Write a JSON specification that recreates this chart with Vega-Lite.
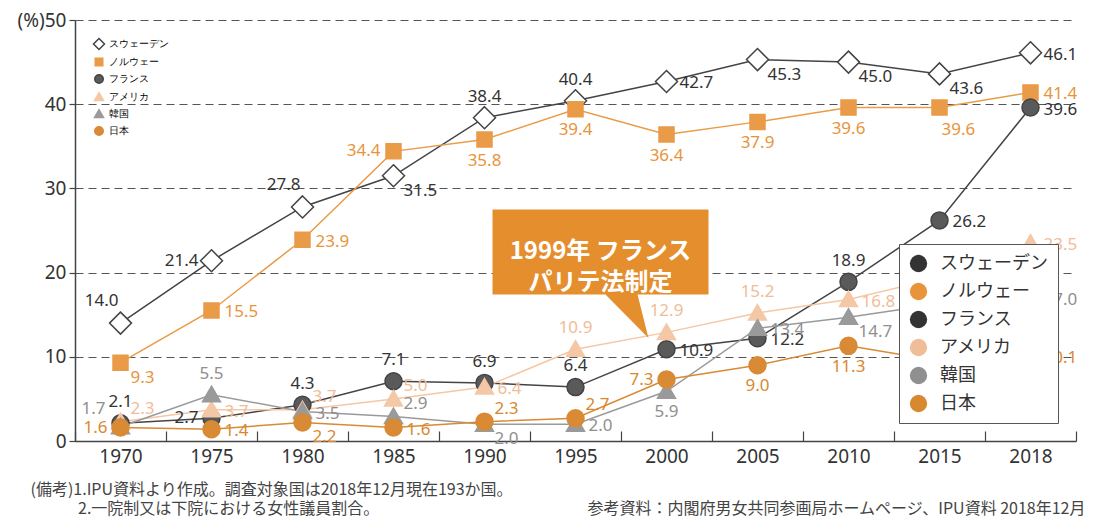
{
  "$schema": "https://vega.github.io/schema/vega-lite/v6.json",
  "autosize": {"type": "none"},
  "padding": {"left": 75, "top": 20, "right": 37, "bottom": 77},
  "width": 1001,
  "height": 421,
  "config": {"view": {"stroke": null}, "font": "Noto Sans"},
  "title": {"text": "2.一院制又は下院における女性議員割合。", "orient": "bottom", "anchor": "start", "frame": "group", "offset": 0, "dx": 3, "dy": -15, "baseline": "top", "font": "Noto Sans CJK JP", "fontSize": 16, "fontWeight": "normal", "color": "#444"},
  "data": {"values": [
    {"country": "スウェーデン", "year": "1970", "value": 14.0},
    {"country": "スウェーデン", "year": "1975", "value": 21.4},
    {"country": "スウェーデン", "year": "1980", "value": 27.8},
    {"country": "スウェーデン", "year": "1985", "value": 31.5},
    {"country": "スウェーデン", "year": "1990", "value": 38.4},
    {"country": "スウェーデン", "year": "1995", "value": 40.4},
    {"country": "スウェーデン", "year": "2000", "value": 42.7},
    {"country": "スウェーデン", "year": "2005", "value": 45.3},
    {"country": "スウェーデン", "year": "2010", "value": 45.0},
    {"country": "スウェーデン", "year": "2015", "value": 43.6},
    {"country": "スウェーデン", "year": "2018", "value": 46.1},
    {"country": "ノルウェー", "year": "1970", "value": 9.3},
    {"country": "ノルウェー", "year": "1975", "value": 15.5},
    {"country": "ノルウェー", "year": "1980", "value": 23.9},
    {"country": "ノルウェー", "year": "1985", "value": 34.4},
    {"country": "ノルウェー", "year": "1990", "value": 35.8},
    {"country": "ノルウェー", "year": "1995", "value": 39.4},
    {"country": "ノルウェー", "year": "2000", "value": 36.4},
    {"country": "ノルウェー", "year": "2005", "value": 37.9},
    {"country": "ノルウェー", "year": "2010", "value": 39.6},
    {"country": "ノルウェー", "year": "2015", "value": 39.6},
    {"country": "ノルウェー", "year": "2018", "value": 41.4},
    {"country": "フランス", "year": "1970", "value": 2.1},
    {"country": "フランス", "year": "1975", "value": 2.7},
    {"country": "フランス", "year": "1980", "value": 4.3},
    {"country": "フランス", "year": "1985", "value": 7.1},
    {"country": "フランス", "year": "1990", "value": 6.9},
    {"country": "フランス", "year": "1995", "value": 6.4},
    {"country": "フランス", "year": "2000", "value": 10.9},
    {"country": "フランス", "year": "2005", "value": 12.2},
    {"country": "フランス", "year": "2010", "value": 18.9},
    {"country": "フランス", "year": "2015", "value": 26.2},
    {"country": "フランス", "year": "2018", "value": 39.6},
    {"country": "アメリカ", "year": "1970", "value": 2.3},
    {"country": "アメリカ", "year": "1975", "value": 3.7},
    {"country": "アメリカ", "year": "1980", "value": 3.7},
    {"country": "アメリカ", "year": "1985", "value": 5.0},
    {"country": "アメリカ", "year": "1990", "value": 6.4},
    {"country": "アメリカ", "year": "1995", "value": 10.9},
    {"country": "アメリカ", "year": "2000", "value": 12.9},
    {"country": "アメリカ", "year": "2005", "value": 15.2},
    {"country": "アメリカ", "year": "2010", "value": 16.8},
    {"country": "アメリカ", "year": "2015", "value": 19.4},
    {"country": "アメリカ", "year": "2018", "value": 23.5},
    {"country": "韓国", "year": "1970", "value": 1.7},
    {"country": "韓国", "year": "1975", "value": 5.5},
    {"country": "韓国", "year": "1980", "value": 3.5},
    {"country": "韓国", "year": "1985", "value": 2.9},
    {"country": "韓国", "year": "1990", "value": 2.0},
    {"country": "韓国", "year": "1995", "value": 2.0},
    {"country": "韓国", "year": "2000", "value": 5.9},
    {"country": "韓国", "year": "2005", "value": 13.4},
    {"country": "韓国", "year": "2010", "value": 14.7},
    {"country": "韓国", "year": "2015", "value": 16.3},
    {"country": "韓国", "year": "2018", "value": 17.0},
    {"country": "日本", "year": "1970", "value": 1.6},
    {"country": "日本", "year": "1975", "value": 1.4},
    {"country": "日本", "year": "1980", "value": 2.2},
    {"country": "日本", "year": "1985", "value": 1.6},
    {"country": "日本", "year": "1990", "value": 2.3},
    {"country": "日本", "year": "1995", "value": 2.7},
    {"country": "日本", "year": "2000", "value": 7.3},
    {"country": "日本", "year": "2005", "value": 9.0},
    {"country": "日本", "year": "2010", "value": 11.3},
    {"country": "日本", "year": "2015", "value": 9.5},
    {"country": "日本", "year": "2018", "value": 10.1}
  ]},
  "encoding": {
    "x": {
      "field": "year", "type": "ordinal",
      "scale": {"type": "band", "domain": ["1970","1975","1980","1985","1990","1995","2000","2005","2010","2015","2018"], "paddingInner": 0, "paddingOuter": 0},
      "axis": {
        "title": "(備考)1.IPU資料より作成。調査対象国は2018年12月現在193か国。",
        "titleX": -45, "titleY": 40, "titleAlign": "left", "titleAnchor": "start", "titleBaseline": "top",
        "titleFont": "Noto Sans CJK JP", "titleFontSize": 16, "titleFontWeight": "normal", "titleColor": "#444",
        "labelAngle": 0, "labelFont": "Noto Sans", "labelFontSize": 19, "labelColor": "#333", "labelPadding": 16,
        "tickSize": -10, "tickBand": "extent", "tickColor": "#444", "tickWidth": 1.2,
        "domainColor": "#444", "domainWidth": 1.5, "grid": false
      }
    },
    "y": {
      "field": "value", "type": "quantitative",
      "scale": {"domain": [0, 50], "nice": false},
      "axis": {
        "values": [0, 10, 20, 30, 40, 50],
        "labelExpr": "datum.value == 50 ? '(%)50' : datum.label",
        "title": "参考資料：内閣府男女共同参画局ホームページ、IPU資料 2018年12月",
        "titleAngle": 0, "titleX": 1010, "titleY": 488, "titleAlign": "right", "titleBaseline": "middle",
        "titleFont": "Noto Sans CJK JP", "titleFontSize": 16, "titleFontWeight": "normal", "titleColor": "#444",
        "labelFont": "Noto Sans", "labelFontSize": 19, "labelColor": "#333", "labelPadding": 3,
        "tickSize": 6, "tickColor": "#444", "tickWidth": 1.2, "domainColor": "#444", "domainWidth": 1.5,
        "grid": true, "gridDash": [8, 5], "gridColor": "#555", "gridWidth": 1
      }
    }
  },
  "layer": [
    {
      "mark": {"type": "line", "strokeWidth": 1.5},
      "encoding": {
        "stroke": {"field": "country", "type": "nominal",
          "scale": {"domain": ["スウェーデン","ノルウェー","フランス","アメリカ","韓国","日本"], "range": ["#444444","#E99B48","#444444","#F4C7A6","#9A9A9A","#D88A34"]},
          "legend": {"title": null, "orient": "top-left"}}
      }
    },
    {
      "data": {"values": [{"year": "1995", "value": 22.45, "label": "1999年 フランス\nパリテ法制定"}]},
      "mark": {"type": "point", "shape": "M-1,-0.394L1,-0.394L1,0.394L0.343,0.394L0.444,0.796L0.046,0.394L-1,0.394Z", "size": 46656, "filled": true, "color": "#E58E2E", "opacity": 1, "strokeWidth": 0, "xOffset": 25}
    },
    {
      "data": {"values": [{"year": "1995", "value": 22.45, "label": "1999年 フランス\nパリテ法制定"}]},
      "mark": {"type": "text", "lineBreak": "\n", "font": "Noto Sans CJK JP", "fontSize": 24, "fontWeight": "bold", "color": "white", "xOffset": 25, "lineHeight": 31, "align": "center", "baseline": "middle"},
      "encoding": {"text": {"field": "label"}}
    },
    {
      "mark": {"type": "point", "filled": true, "size": 400, "strokeWidth": 1.5, "opacity": 1},
      "encoding": {
        "shape": {"field": "country", "type": "nominal",
          "scale": {"domain": ["スウェーデン","ノルウェー","フランス","アメリカ","韓国","日本"], "range": ["M0,-1.1L1.1,0L0,1.1L-1.1,0Z","M-0.75,-0.75L0.75,-0.75L0.75,0.75L-0.75,0.75Z","M-0.85,0A0.85,0.85 0 1,1 0.85,0A0.85,0.85 0 1,1 -0.85,0Z","M0,-0.85L0.9,0.7L-0.9,0.7Z","M0,-0.85L0.9,0.7L-0.9,0.7Z","M-0.85,0A0.85,0.85 0 1,1 0.85,0A0.85,0.85 0 1,1 -0.85,0Z"]},
          "legend": null
        },
        "fill": {"field": "country", "type": "nominal",
          "scale": {"domain": ["スウェーデン","ノルウェー","フランス","アメリカ","韓国","日本"], "range": ["#FFFFFF","#E99B48","#5A5A5A","#F4C7A6","#9A9A9A","#D88A34"]},
          "legend": null},
        "stroke": {"field": "country", "type": "nominal",
          "scale": {"domain": ["スウェーデン","ノルウェー","フランス","アメリカ","韓国","日本"], "range": ["#444444","#E99B48","#444444","#F4C7A6","#9A9A9A","#D88A34"]},
          "legend": {"title": null, "orient": "top-left"}}
      }
    },
    {
      "transform": [{"filter": "indexof(['スウェーデン|1990','スウェーデン|1995','フランス|1970','フランス|1980','フランス|1985','フランス|1990','フランス|1995','フランス|2010','アメリカ|1995','アメリカ|2000','アメリカ|2005','アメリカ|2015','韓国|1975'], datum.country + '|' + datum.year) >= 0"}],
      "mark": {"type": "text", "font": "Noto Sans", "fontSize": 17, "baseline": "middle", "align": "center", "dy": -21},
      "encoding": {"text": {"field": "value", "format": ".1f"},
        "color": {"field": "country", "type": "nominal", "scale": {"domain": ["スウェーデン","ノルウェー","フランス","アメリカ","韓国","日本"], "range": ["#333333","#E8943A","#333333","#F0BD98","#8F8F8F","#D8892F"]},
          "legend": {"title": null, "orient": "bottom-right",
            "symbolSize": 300, "labelFont": "Noto Sans CJK JP", "labelFontSize": 18, "labelColor": "#333",
            "labelOffset": 12, "padding": 10, "rowPadding": 9, "fillColor": "white", "strokeColor": "#555"}}}
    },
    {
      "transform": [{"filter": "indexof(['ノルウェー|1990','ノルウェー|1995','ノルウェー|2000','ノルウェー|2005','ノルウェー|2010','韓国|2000','韓国|2015','日本|2005','日本|2010','日本|2015'], datum.country + '|' + datum.year) >= 0"}],
      "mark": {"type": "text", "font": "Noto Sans", "fontSize": 17, "baseline": "middle", "align": "center", "dy": 21},
      "encoding": {"text": {"field": "value", "format": ".1f"},
        "color": {"field": "country", "type": "nominal", "scale": {"domain": ["スウェーデン","ノルウェー","フランス","アメリカ","韓国","日本"], "range": ["#333333","#E8943A","#333333","#F0BD98","#8F8F8F","#D8892F"]}, "legend": null}}
    },
    {
      "transform": [{"filter": "indexof(['ノルウェー|2015'], datum.country + '|' + datum.year) >= 0"}],
      "mark": {"type": "text", "font": "Noto Sans", "fontSize": 17, "baseline": "middle", "align": "left", "dx": 2, "dy": 22},
      "encoding": {"text": {"field": "value", "format": ".1f"},
        "color": {"field": "country", "type": "nominal", "scale": {"domain": ["スウェーデン","ノルウェー","フランス","アメリカ","韓国","日本"], "range": ["#333333","#E8943A","#333333","#F0BD98","#8F8F8F","#D8892F"]}, "legend": null}}
    },
    {
      "transform": [{"filter": "indexof(['スウェーデン|2000','スウェーデン|2018','ノルウェー|1975','ノルウェー|1980','ノルウェー|2018','フランス|2000','フランス|2005','フランス|2015','フランス|2018','アメリカ|1975','アメリカ|1990','アメリカ|2010','アメリカ|2018','韓国|1980','韓国|1995','韓国|2005','韓国|2018','日本|1975','日本|1985','日本|2018'], datum.country + '|' + datum.year) >= 0"}],
      "mark": {"type": "text", "font": "Noto Sans", "fontSize": 17, "baseline": "middle", "align": "left", "dx": 13, "dy": 2},
      "encoding": {"text": {"field": "value", "format": ".1f"},
        "color": {"field": "country", "type": "nominal", "scale": {"domain": ["スウェーデン","ノルウェー","フランス","アメリカ","韓国","日本"], "range": ["#333333","#E8943A","#333333","#F0BD98","#8F8F8F","#D8892F"]}, "legend": null}}
    },
    {
      "transform": [{"filter": "indexof(['スウェーデン|1975','ノルウェー|1985','フランス|1975','日本|1970','日本|2000'], datum.country + '|' + datum.year) >= 0"}],
      "mark": {"type": "text", "font": "Noto Sans", "fontSize": 17, "baseline": "middle", "align": "right", "dx": -13, "dy": 0},
      "encoding": {"text": {"field": "value", "format": ".1f"},
        "color": {"field": "country", "type": "nominal", "scale": {"domain": ["スウェーデン","ノルウェー","フランス","アメリカ","韓国","日本"], "range": ["#333333","#E8943A","#333333","#F0BD98","#8F8F8F","#D8892F"]}, "legend": null}}
    },
    {
      "transform": [{"filter": "indexof(['スウェーデン|1985','スウェーデン|2005','スウェーデン|2010','スウェーデン|2015','ノルウェー|1970','韓国|1990','韓国|2010','日本|1980'], datum.country + '|' + datum.year) >= 0"}],
      "mark": {"type": "text", "font": "Noto Sans", "fontSize": 17, "baseline": "middle", "align": "left", "dx": 10, "dy": 15},
      "encoding": {"text": {"field": "value", "format": ".1f"},
        "color": {"field": "country", "type": "nominal", "scale": {"domain": ["スウェーデン","ノルウェー","フランス","アメリカ","韓国","日本"], "range": ["#333333","#E8943A","#333333","#F0BD98","#8F8F8F","#D8892F"]}, "legend": null}}
    },
    {
      "transform": [{"filter": "indexof(['アメリカ|1970','アメリカ|1980','アメリカ|1985','韓国|1985','日本|1990','日本|1995'], datum.country + '|' + datum.year) >= 0"}],
      "mark": {"type": "text", "font": "Noto Sans", "fontSize": 17, "baseline": "middle", "align": "left", "dx": 10, "dy": -13},
      "encoding": {"text": {"field": "value", "format": ".1f"},
        "color": {"field": "country", "type": "nominal", "scale": {"domain": ["スウェーデン","ノルウェー","フランス","アメリカ","韓国","日本"], "range": ["#333333","#E8943A","#333333","#F0BD98","#8F8F8F","#D8892F"]}, "legend": null}}
    },
    {
      "transform": [{"filter": "indexof(['スウェーデン|1970','スウェーデン|1980'], datum.country + '|' + datum.year) >= 0"}],
      "mark": {"type": "text", "font": "Noto Sans", "fontSize": 17, "baseline": "middle", "align": "right", "dx": -2, "dy": -22},
      "encoding": {"text": {"field": "value", "format": ".1f"},
        "color": {"field": "country", "type": "nominal", "scale": {"domain": ["スウェーデン","ノルウェー","フランス","アメリカ","韓国","日本"], "range": ["#333333","#E8943A","#333333","#F0BD98","#8F8F8F","#D8892F"]}, "legend": null}}
    },
    {
      "transform": [{"filter": "indexof(['韓国|1970'], datum.country + '|' + datum.year) >= 0"}],
      "mark": {"type": "text", "font": "Noto Sans", "fontSize": 17, "baseline": "middle", "align": "right", "dx": -15, "dy": -18},
      "encoding": {"text": {"field": "value", "format": ".1f"},
        "color": {"field": "country", "type": "nominal", "scale": {"domain": ["スウェーデン","ノルウェー","フランス","アメリカ","韓国","日本"], "range": ["#333333","#E8943A","#333333","#F0BD98","#8F8F8F","#D8892F"]}, "legend": null}}
    }
  ]
}
